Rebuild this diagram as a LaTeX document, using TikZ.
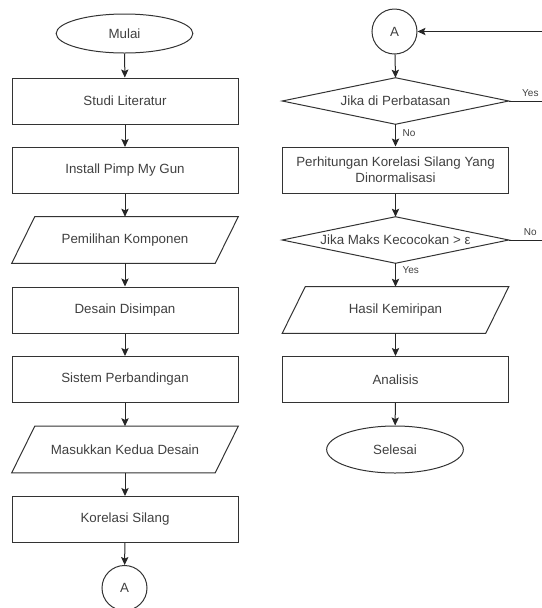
\documentclass[tikz,border=0pt]{standalone}
\usepackage{fontspec}
\setmainfont{Liberation Sans}
\usetikzlibrary{shapes.geometric,arrows.meta}
\begin{document}
\begin{tikzpicture}[x=0.75pt,y=-0.75pt,
  base/.style={font=\fontsize{10}{12}\selectfont, text=black!75, inner sep=0pt, align=center},
  proc/.style={base, rectangle, draw=black!80, line width=0.75pt, minimum width=169.5pt, minimum height=34.5pt},
  term/.style={base, ellipse, draw=black!80, line width=0.75pt, minimum width=102.5pt},
  conn/.style={base, circle, draw=black!80, line width=0.75pt, minimum size=33.75pt},
  frame/.style={base, rectangle, minimum width=169.5pt, minimum height=34.5pt},
  outline/.style={draw=black!80, line width=0.75pt},
  arr/.style={draw=black!85, line width=0.75pt, -{Stealth[length=6pt,width=5.5pt,inset=1.2pt]}},
  lbl/.style={font=\fontsize{7.5}{9}\selectfont, text=black!75, inner sep=0pt}]
\clip (0,0) rectangle (542,608);
% left column
\node[term, minimum height=29.25pt] (mulai) at (124.5,33.5) {Mulai};
\node[proc] (studi) at (125,101) {Studi Literatur};
\node[proc] (install) at (125,170.5) {Install Pimp My Gun};
\node[frame] (pilih) at (125,240) {Pemilihan Komponen};
\draw[outline] ([xshift=17.25pt]pilih.north west) -- (pilih.north east) -- ([xshift=-17.25pt]pilih.south east) -- (pilih.south west) -- cycle;
\node[proc] (desain) at (125,310) {Desain Disimpan};
\node[proc] (sistem) at (125,379.5) {Sistem Perbandingan};
\node[frame] (masuk) at (125,449.5) {Masukkan Kedua Desain};
\draw[outline] ([xshift=17.25pt]masuk.north west) -- (masuk.north east) -- ([xshift=-17.25pt]masuk.south east) -- (masuk.south west) -- cycle;
\node[proc] (korelasi) at (125,519.5) {Korelasi Silang};
\node[conn] (a1) at (124.5,588) {A};
\draw[arr] (mulai) -- (studi);
\draw[arr] (studi) -- (install);
\draw[arr] (install) -- (pilih);
\draw[arr] (pilih) -- (desain);
\draw[arr] (desain) -- (sistem);
\draw[arr] (sistem) -- (masuk);
\draw[arr] (masuk) -- (korelasi);
\draw[arr] (korelasi) -- (a1);
% right column
\node[conn] (a2) at (394.5,31.5) {A};
\node[frame] (d1) at (395.5,101) {Jika di Perbatasan};
\draw[outline] (d1.north) -- (d1.east) -- (d1.south) -- (d1.west) -- cycle;
\node[proc] (hitung) at (395.5,170) {Perhitungan Korelasi Silang Yang\\Dinormalisasi};
\node[frame] (d2) at (395.5,240) {Jika Maks Kecocokan > ε};
\draw[outline] (d2.north) -- (d2.east) -- (d2.south) -- (d2.west) -- cycle;
\node[frame] (hasil) at (395.5,310) {Hasil Kemiripan};
\draw[outline] ([xshift=17.25pt]hasil.north west) -- (hasil.north east) -- ([xshift=-17.25pt]hasil.south east) -- (hasil.south west) -- cycle;
\node[proc] (analisis) at (395.5,379.5) {Analisis};
\node[term, minimum height=35.25pt] (selesai) at (395,449.5) {Selesai};
\coordinate (loop) at (552,101);
\draw[arr] (a2) -- (d1.north);
\draw[arr] (d1.south) -- node[lbl, right=5pt, pos=0.4] {No} (hitung);
\draw[arr] (hitung) -- (d2.north);
\draw[arr] (d2.south) -- node[lbl, right=5pt, pos=0.3] {Yes} (hasil);
\draw[arr] (hasil) -- (analisis);
\draw[arr] (analisis) -- (selesai);
\draw[line width=0.75pt, draw=black!85] (d1.east) -- node[lbl, above=3pt, pos=0.5] {Yes} (loop);
\draw[line width=0.75pt, draw=black!85] (d2.east) -- node[lbl, above=3pt, pos=0.5] {No} (d2.east -| loop) -- (loop);
\draw[arr] (loop) |- (a2.east);
\end{tikzpicture}
\end{document}
